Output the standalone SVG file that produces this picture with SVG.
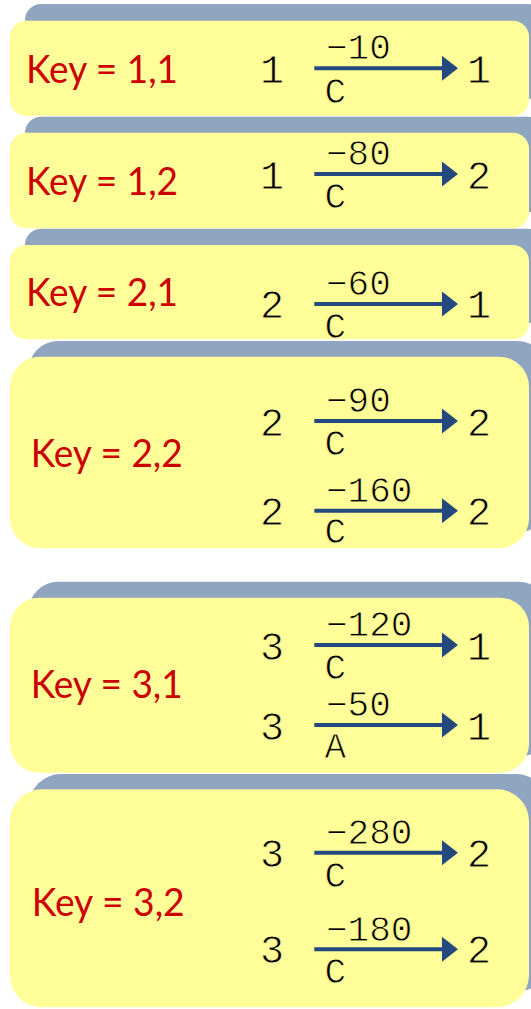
<svg xmlns="http://www.w3.org/2000/svg" width="531" height="1009" viewBox="0 0 531 1009">
  <style>
    .back { fill: #8FA5C0; }
    .card { fill: #FFFE99; }
    .key { font-family: Lato, "Liberation Sans", sans-serif; font-size: 38px; fill: #CC0000; }
    /* thin monospace: a card-coloured stroke drawn over the fill slims the glyphs */
    .node, .lbl { font-family: "Liberation Mono", monospace; fill: #000000; stroke: #FFFE99; stroke-width: 0.8px; paint-order: fill stroke; }
    .node { font-size: 40px; text-anchor: middle; }
    .lbl { font-size: 36px; }
    .edge { stroke: #23497E; stroke-width: 4; fill: none; marker-end: url(#head); }
  </style>
  <defs>
    <marker id="head" markerUnits="userSpaceOnUse" markerWidth="16" markerHeight="25" viewBox="0 0 16 25" refX="1" refY="12.5" orient="auto">
      <path d="M0,0 L16,12.5 L0,25 Z" fill="#23497E"/>
    </marker>
  </defs>

  <!-- key 1,1 -->
  <g id="key-1-1">
    <rect class="back" x="25" y="4" width="519" height="95" rx="16"/>
    <rect class="card" x="10" y="20.7" width="519" height="95" rx="16"/>
    <text class="key" x="26" y="83.3" textLength="152" lengthAdjust="spacingAndGlyphs">Key = 1,1</text>
    <text class="node" x="272" y="82.7">1</text>
    <text class="node" x="479" y="82.7">1</text>
    <text class="lbl" x="326" y="59.3">−10</text>
    <text class="lbl" x="324.5" y="102.7">C</text>
  </g>

  <!-- key 1,2 -->
  <g id="key-1-2">
    <rect class="back" x="25" y="116.7" width="519" height="95.6" rx="16"/>
    <rect class="card" x="10" y="132.7" width="519" height="95.6" rx="16"/>
    <text class="key" x="26" y="195" textLength="152" lengthAdjust="spacingAndGlyphs">Key = 1,2</text>
    <text class="node" x="272" y="189">1</text>
    <text class="node" x="479" y="189">2</text>
    <text class="lbl" x="326" y="165">−80</text>
    <text class="lbl" x="324.5" y="208">C</text>
  </g>

  <!-- key 2,1 -->
  <g id="key-2-1">
    <rect class="back" x="25" y="228.7" width="519" height="94.3" rx="16"/>
    <rect class="card" x="10" y="245" width="519" height="94.3" rx="16"/>
    <text class="key" x="26" y="306" textLength="152" lengthAdjust="spacingAndGlyphs">Key = 2,1</text>
    <text class="node" x="272" y="318.3">2</text>
    <text class="node" x="479" y="318.3">1</text>
    <text class="lbl" x="326" y="295">−60</text>
    <text class="lbl" x="324.5" y="338">C</text>
  </g>

  <!-- key 2,2 -->
  <g id="key-2-2">
    <rect class="back" x="28.3" y="341" width="519" height="191.6" rx="30"/>
    <rect class="card" x="10" y="356.7" width="519" height="191.6" rx="30"/>
    <text class="key" x="30.7" y="466.7" textLength="152" lengthAdjust="spacingAndGlyphs">Key = 2,2</text>
    <text class="node" x="272" y="435.7">2</text>
    <text class="node" x="479" y="435.7">2</text>
    <text class="lbl" x="326" y="412">−90</text>
    <text class="lbl" x="324.5" y="455">C</text>
    <text class="node" x="272" y="525">2</text>
    <text class="node" x="479" y="525">2</text>
    <text class="lbl" x="326" y="501.7">−160</text>
    <text class="lbl" x="324.5" y="543.3">C</text>
  </g>

  <!-- key 3,1 -->
  <g id="key-3-1">
    <rect class="back" x="29" y="581.7" width="519" height="175" rx="29"/>
    <rect class="card" x="10" y="597.7" width="519" height="175" rx="29"/>
    <text class="key" x="30.7" y="698.3" textLength="152" lengthAdjust="spacingAndGlyphs">Key = 3,1</text>
    <text class="node" x="272" y="660">3</text>
    <text class="node" x="479" y="660">1</text>
    <text class="lbl" x="326" y="636">−120</text>
    <text class="lbl" x="324.5" y="679">C</text>
    <text class="node" x="272" y="740">3</text>
    <text class="node" x="479" y="740">1</text>
    <text class="lbl" x="326" y="716">−50</text>
    <text class="lbl" x="324.5" y="758.3">A</text>
  </g>

  <!-- key 3,2 -->
  <g id="key-3-2">
    <rect class="back" x="29" y="774" width="519" height="218" rx="32"/>
    <rect class="card" x="10" y="789.3" width="519" height="218" rx="32"/>
    <text class="key" x="31.7" y="916" textLength="153" lengthAdjust="spacingAndGlyphs">Key = 3,2</text>
    <text class="node" x="272" y="867.3">3</text>
    <text class="node" x="479" y="867.3">2</text>
    <text class="lbl" x="326" y="844">−280</text>
    <text class="lbl" x="324.5" y="886.5">C</text>
    <text class="node" x="272" y="963.3">3</text>
    <text class="node" x="479" y="963.3">2</text>
    <text class="lbl" x="326" y="940.5">−180</text>
    <text class="lbl" x="324.5" y="983">C</text>
  </g>

  <!-- transition arrows -->
  <g id="connectors">
    <line class="edge" x1="314.3" y1="68.3" x2="443" y2="68.3"/>
    <line class="edge" x1="314.3" y1="174" x2="443" y2="174"/>
    <line class="edge" x1="314.3" y1="304" x2="443" y2="304"/>
    <line class="edge" x1="314.3" y1="421" x2="443" y2="421"/>
    <line class="edge" x1="314.3" y1="510.7" x2="443" y2="510.7"/>
    <line class="edge" x1="314.3" y1="645" x2="443" y2="645"/>
    <line class="edge" x1="314.3" y1="725" x2="443" y2="725"/>
    <line class="edge" x1="314.3" y1="852.7" x2="443" y2="852.7"/>
    <line class="edge" x1="314.3" y1="949.3" x2="443" y2="949.3"/>
  </g>
</svg>
